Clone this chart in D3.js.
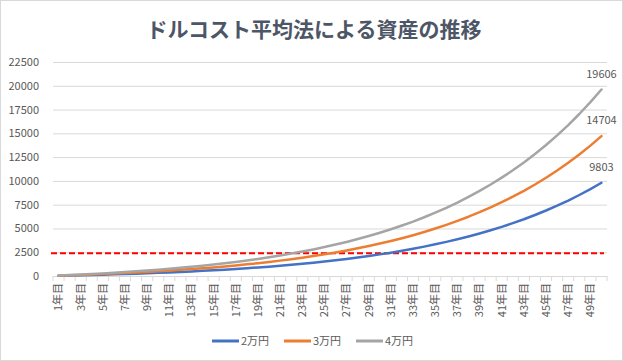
<!DOCTYPE html>
<html>
<head>
<meta charset="utf-8">
<script src="https://cdn.jsdelivr.net/npm/d3@7"></script>
<style>
  body { margin: 0; background: #fff; }
  text { font-family: "Noto Sans CJK JP", "Noto Sans", sans-serif; }
</style>
</head>
<body>
<div class="visuals"></div>
<script>
// values (万円)
const years = d3.range(1, 51).map(n => n + "年目");
const yTicks = [0, 2500, 5000, 7500, 10000, 12500, 15000, 17500, 20000, 22500];
const principal = 2400; // red dashed line

const s2man = [24,50,77,107,138,172,208,246,288,332,379,430,484,542,604,670,741,817,898,985,
  1078,1178,1284,1398,1520,1651,1791,1941,2101,2273,2456,2652,2862,3087,3328,3585,3861,4156,4471,4809,
  5170,5557,5970,6413,6886,7393,7935,8516,9137,9803];
const s3man = [36,75,116,161,207,258,312,369,432,498,569,645,726,813,906,1005,1112,1226,1347,1478,
  1617,1767,1926,2097,2280,2477,2687,2912,3152,3410,3684,3978,4293,4631,4992,5378,5792,6234,6707,7214,
  7755,8336,8955,9620,10329,11090,11903,12774,13706,14704];
const s4man = [48,100,154,214,276,344,416,492,576,664,758,860,968,1084,1208,1340,1482,1634,1796,1970,
  2156,2356,2568,2796,3040,3302,3582,3882,4202,4546,4912,5304,5724,6174,6656,7170,7722,8312,8942,9618,
  10340,11114,11940,12826,13772,14786,15870,17032,18274,19606];

const seriesNames = ["2万円", "3万円", "4万円"];
const seriesColors = ["#4472c4", "#ed7d31", "#a5a5a5"];
const seriesData = [s2man, s3man, s4man];

const width = 623, height = 361;
const plotLeft = 53, plotRight = 607, plotTop = 62, plotBottom = 276;
const grey = "#595959";

const svg = d3.select(".visuals").append("svg")
  .attr("width", width)
  .attr("height", height);

// outer frame
svg.append("rect")
  .attr("x", 0.5).attr("y", 0.5)
  .attr("width", width - 1).attr("height", height - 1)
  .attr("fill", "#fff").attr("stroke", "#d9d9d9");

// title
svg.append("text")
  .attr("x", 314).attr("y", 37)
  .attr("text-anchor", "middle")
  .attr("font-size", 21).attr("font-weight", "bold")
  .attr("fill", "#4d5666")
  .text("ドルコスト平均法による資産の推移");

const x = d3.scaleBand().domain(years).range([plotLeft, plotRight]).padding(0);
const y = d3.scaleLinear().domain([0, 22500]).range([plotBottom, plotTop]);
const cx = d => x(d) + x.bandwidth() / 2;

// grid + y labels
const yAxis = svg.append("g")
  .attr("transform", `translate(${plotLeft},0)`)
  .call(d3.axisLeft(y).tickValues(yTicks).tickSize(-(plotRight - plotLeft)).tickPadding(14).tickFormat(d3.format("d")));
yAxis.select(".domain").remove();
yAxis.selectAll(".tick line").attr("stroke", "#d9d9d9");
yAxis.selectAll(".tick text").attr("fill", grey).attr("font-size", 11);

// x axis
const xAxis = svg.append("g")
  .attr("transform", `translate(0,${plotBottom})`)
  .call(d3.axisBottom(x).tickSize(0).tickFormat((d, i) => i % 2 === 0 ? d : ""));
xAxis.select(".domain").attr("stroke", "#d9d9d9");
xAxis.selectAll(".tick text")
  .attr("fill", grey).attr("font-size", 11)
  .attr("text-anchor", "end")
  .attr("transform", "rotate(-90)")
  .attr("x", -7).attr("y", 0).attr("dy", "0.35em");

// category boundary ticks
svg.append("g").selectAll("line")
  .data(years.concat(["end"]))
  .enter().append("line")
  .attr("x1", (d, i) => i < years.length ? x(d) : plotRight)
  .attr("x2", (d, i) => i < years.length ? x(d) : plotRight)
  .attr("y1", plotBottom).attr("y2", plotBottom + 5)
  .attr("stroke", "#d9d9d9");

// principal line
svg.append("line")
  .attr("x1", plotLeft - 2).attr("x2", plotRight - 3)
  .attr("y1", y(principal)).attr("y2", y(principal))
  .attr("stroke", "#ff0000").attr("stroke-width", 2)
  .attr("stroke-dasharray", "6,3");

// series
const line = d3.line().x((d, i) => cx(years[i])).y(d => y(d));
seriesData.forEach((s, k) => {
  svg.append("path")
    .datum(s)
    .attr("d", line)
    .attr("fill", "none")
    .attr("stroke", seriesColors[k])
    .attr("stroke-width", 2.5)
    .attr("stroke-linejoin", "round")
    .attr("stroke-linecap", "round");

  const last = s[s.length - 1];
  svg.append("text")
    .attr("x", cx(years[years.length - 1]))
    .attr("y", y(last) - 12)
    .attr("text-anchor", "middle")
    .attr("font-size", 11)
    .attr("fill", grey)
    .text(last);
});

// legend
const legend = svg.append("g").selectAll("g")
  .data(seriesNames)
  .enter().append("g")
  .attr("transform", (d, i) => `translate(${212 + i * 72},341)`);
legend.append("line")
  .attr("x1", 0).attr("x2", 27)
  .attr("stroke", (d, i) => seriesColors[i])
  .attr("stroke-width", 3);
legend.append("text")
  .attr("x", 29).attr("dy", "0.35em")
  .attr("font-size", 11).attr("fill", grey)
  .text(d => d);
</script>
</body>
</html>
